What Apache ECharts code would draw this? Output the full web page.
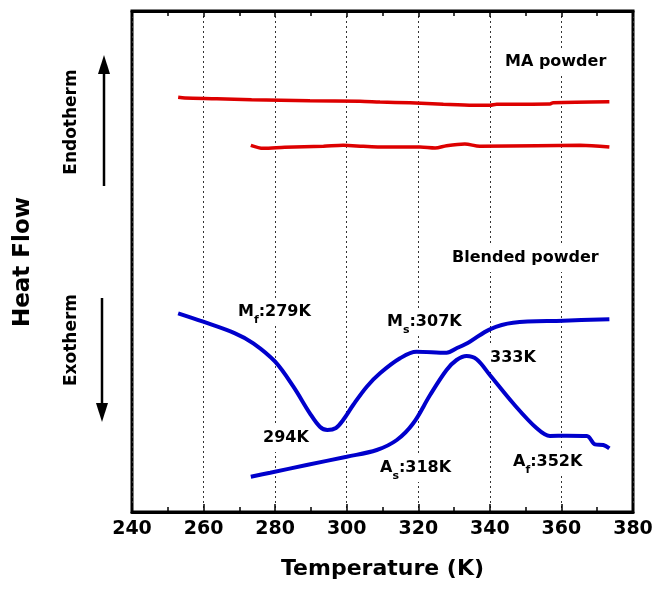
<!DOCTYPE html>
<html lang="en">
<head>
    <meta charset="UTF-8">
    <title>Heat Flow</title>
    <script src="https://cdn.jsdelivr.net/npm/echarts@6/dist/echarts.min.js"></script>
    <style>
        body { margin: 0; background: #fff; }
        #box1 { width: 659px; height: 598px; }
    </style>
</head>
<body>
<div id="box1"></div>
<script>
    // x tick labels
    var xTicks = [240, 260, 280, 300, 320, 340, 360, 380];

    // MA powder, upper red trace
    var maTopT = [252.9, 254.8, 263.7, 273.4, 289.7, 303.7, 309.3, 317.7, 327, 335.4, 340, 341.9, 356.8, 357.7, 373.4];
    var maTopV = [414.7, 414, 413.3, 412.3, 411.3, 410.7, 410, 409.2, 407.7, 406.7, 406.7, 407.7, 408, 409.3, 410.3];
    // MA powder, lower red trace
    var maLowT = [273.2, 276.7, 282.7, 293.5, 299, 304.6, 309.3, 320.5, 324.7, 327.9, 333, 337.2, 353.1, 365.2, 373.4];
    var maLowV = [366.7, 363.7, 364.7, 365.7, 366.7, 365.7, 365, 365, 364, 366.3, 368, 365.7, 366.3, 366.7, 365];
    // blended powder, cooling trace
    var coolT = [252.9, 259.9, 268.8, 273.9, 280, 285.1, 289.7, 292.5, 294.6, 297, 299, 301.8, 305.6, 309.3, 314.9, 319.5, 327.9, 330.7, 334.4, 340, 346.5, 360.5, 373.4];
    var coolV = [198.7, 190.3, 178.7, 168.7, 150.3, 125.3, 98.7, 85.3, 82, 84, 92, 107, 125.3, 138.7, 153.7, 160.3, 159.3, 163.7, 170.3, 182.7, 189.3, 191.3, 192.7];
    // blended powder, heating trace
    var heatT = [273.2, 278.6, 288.8, 300, 308.4, 314, 318.6, 323.3, 327.9, 330.7, 333.5, 336.3, 340, 346.5, 353.1, 356.8, 361.5, 367.1, 369.4, 371.7, 373.4];
    var heatV = [35.3, 39.3, 47, 55.3, 62, 72, 88.7, 117, 142, 152, 156, 152.7, 137, 108.7, 83.7, 76, 76.3, 76, 67.7, 67, 63.7];

    function pairs(t, v) {
        var out = [];
        for (var i = 0; i < t.length; i++) out.push([t[i], v[i]]);
        return out;
    }

    var FONT = 'DejaVu Sans';
    var rich = {
        b: { fontSize: 16, fontWeight: 'bold', fontFamily: FONT, color: '#000', lineHeight: 28, verticalAlign: 'middle' },
        s: { fontSize: 11, fontWeight: 'bold', fontFamily: FONT, color: '#000', lineHeight: 28, verticalAlign: 'bottom' }
    };
    function label(x, y, txt) {
        return {
            type: 'text', x: x, y: y, z: 1,
            style: {
                text: txt, rich: rich, align: 'left', verticalAlign: 'middle',
                backgroundColor: '#fff', padding: [0, 2]
            }
        };
    }
    function plain(x, y, txt, size, rot) {
        return {
            type: 'text', x: x, y: y, rotation: rot || 0, z: 1,
            style: {
                text: txt, fontSize: size, fontWeight: 'bold', fontFamily: FONT, fill: '#000',
                align: 'center', verticalAlign: 'middle'
            }
        };
    }

    var mycharts1 = echarts.init(document.getElementById('box1'));
    var option = {
        backgroundColor: '#fff',
        animation: false,
        grid: { left: 132, right: 26, top: 11, bottom: 86, show: true, borderColor: '#000', borderWidth: 3 },
        xAxis: [{
            type: 'value', min: 240, max: 380, interval: 20,
            axisLine: { show: true, onZero: false, lineStyle: { color: '#000', width: 3 } },
            axisTick: { show: true, inside: true, length: 8, lineStyle: { color: '#000', width: 1.5 } },
            minorTick: { show: true, splitNumber: 2, length: 5, lineStyle: { color: '#000', width: 1.5 } },
            axisLabel: {
                margin: 8, fontSize: 19, fontWeight: 'bold', fontFamily: FONT, color: '#000',
                formatter: function (v) { return xTicks.indexOf(v) >= 0 ? String(v) : ''; }
            },
            splitLine: { show: true, lineStyle: { color: '#333', width: 1, type: [2, 3] } },
            name: 'Temperature (K)', nameLocation: 'middle', nameGap: 46,
            nameTextStyle: { fontSize: 22, fontWeight: 'bold', fontFamily: FONT, color: '#000' }
        }, {
            type: 'value', position: 'top', min: 240, max: 380, interval: 20,
            axisLine: { show: true, onZero: false, lineStyle: { color: '#000', width: 3 } },
            axisTick: { show: true, inside: true, length: 6, lineStyle: { color: '#000', width: 1.5 } },
            minorTick: { show: true, splitNumber: 2, length: 5, lineStyle: { color: '#000', width: 1.5 } },
            axisLabel: { show: false },
            splitLine: { show: false }
        }],
        yAxis: {
            type: 'value', min: 0, max: 501,
            axisLine: { show: false }, axisTick: { show: false },
            axisLabel: { show: false }, splitLine: { show: false }
        },
        series: [
            { type: 'line', z: 3, data: pairs(maTopT, maTopV), smooth: 0.3, showSymbol: false, lineStyle: { color: '#dd0000', width: 3.5 } },
            { type: 'line', z: 3, data: pairs(maLowT, maLowV), smooth: 0.3, showSymbol: false, lineStyle: { color: '#dd0000', width: 3.5 } },
            { type: 'line', z: 3, data: pairs(coolT, coolV), smooth: 0.35, showSymbol: false, lineStyle: { color: '#0000cc', width: 4 } },
            { type: 'line', z: 3, data: pairs(heatT, heatV), smooth: 0.35, showSymbol: false, lineStyle: { color: '#0000cc', width: 4 } }
        ],
        graphic: [
            plain(23, 262, 'Heat Flow', 23, Math.PI / 2),
            plain(72, 122, 'Endotherm', 17, Math.PI / 2),
            plain(72, 340, 'Exotherm', 17, Math.PI / 2),
            { type: 'line', shape: { x1: 104, y1: 186, x2: 104, y2: 70 }, style: { stroke: '#000', lineWidth: 2.5 } },
            { type: 'polygon', shape: { points: [[104, 55], [98, 74], [110, 74]] }, style: { fill: '#000' } },
            { type: 'line', shape: { x1: 102, y1: 298, x2: 102, y2: 405 }, style: { stroke: '#000', lineWidth: 2.5 } },
            { type: 'polygon', shape: { points: [[102, 422], [96, 403], [108, 403]] }, style: { fill: '#000' } },
            label(503, 62, '{b|MA powder}'),
            label(450, 258, '{b|Blended powder}'),
            label(236, 312, '{b|M}{s|f}{b|:279K}'),
            label(385, 322, '{b|M}{s|s}{b|:307K}'),
            label(261, 438, '{b|294K}'),
            label(488, 358, '{b|333K}'),
            label(378, 468, '{b|A}{s|s}{b|:318K}'),
            label(511, 462, '{b|A}{s|f}{b|:352K}')
        ]
    };
    mycharts1.setOption(option);
</script>
</body>
</html>
